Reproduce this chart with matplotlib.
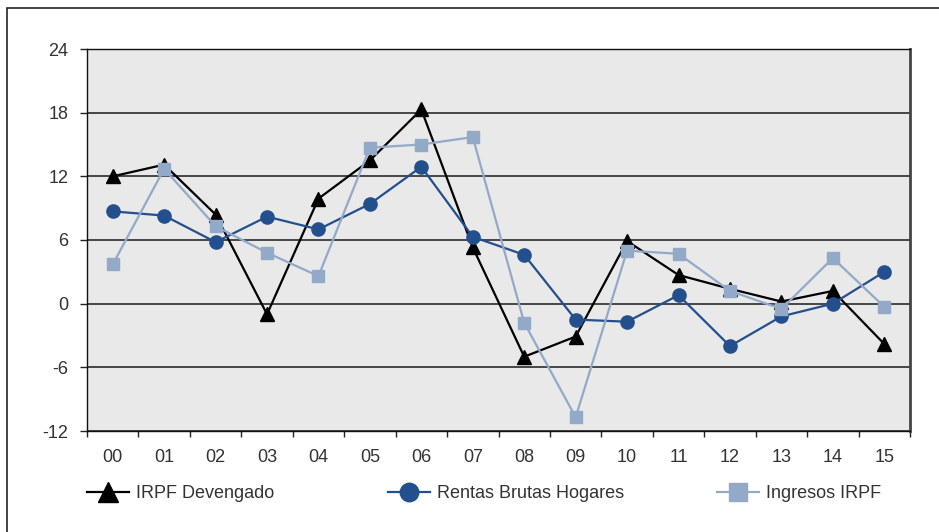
import matplotlib
matplotlib.use("Agg")
import matplotlib.pyplot as plt
from matplotlib.patches import Rectangle

# years (two-digit labels)
years = ["00", "01", "02", "03", "04", "05", "06", "07",
         "08", "09", "10", "11", "12", "13", "14", "15"]

irpf_devengado = [12.0, 13.1, 8.4, -1.0, 9.9, 13.5, 18.3, 5.3,
                  -5.0, -3.1, 5.9, 2.7, 1.4, 0.2, 1.2, -3.8]
rentas_brutas = [8.7, 8.3, 5.8, 8.2, 7.0, 9.4, 12.9, 6.3,
                 4.6, -1.5, -1.7, 0.8, -4.0, -1.2, 0.0, 3.0]
ingresos_irpf = [3.7, 12.7, 7.3, 4.8, 2.6, 14.7, 15.0, 15.7,
                 -1.8, -10.7, 5.0, 4.7, 1.2, -0.5, 4.3, -0.3]

yticks = [-12, -6, 0, 6, 12, 18, 24]

BLACK = "#000000"
DARK = "#234f8e"
LIGHT = "#93a9c8"
TXT = "#333333"

plt.rcParams["font.family"] = ["Liberation Sans", "DejaVu Sans"]

fig = plt.figure(figsize=(9.39, 5.32), dpi=100)
ax = fig.add_axes([87/939, 1-431/532, (910-87)/939, (431-49)/532])
ax.set_facecolor("#e9e9e9")

# outer frame (top and left visible)
fig.patches.append(Rectangle((7/939, -0.1), 1.2, 1-8/532+0.1, transform=fig.transFigure,
                             fill=False, edgecolor="#222222", lw=1.2))

x = list(range(len(years)))
l1, = ax.plot(x, irpf_devengado, color=BLACK, lw=1.6, marker="^", ms=10,
              label="IRPF Devengado", zorder=3)
l2, = ax.plot(x, rentas_brutas, color=DARK, lw=1.6, marker="o", ms=9.5,
              label="Rentas Brutas Hogares", zorder=3)
l3, = ax.plot(x, ingresos_irpf, color=LIGHT, lw=1.6, marker="s", ms=9,
              label="Ingresos IRPF", zorder=3)

ax.set_xlim(-0.5, len(years)-0.5)
ax.set_ylim(-12, 24)
ax.set_yticks(yticks)
ax.set_yticklabels([str(v) for v in yticks])
ax.set_xticks(x)
ax.set_xticklabels(years)
ax.set_xticks([i-0.5 for i in range(len(years)+1)], minor=True)
ax.tick_params(axis="x", which="major", length=0, pad=13, labelsize=13, labelcolor=TXT)
ax.tick_params(axis="x", which="minor", length=4.5, width=1, color="#222222", direction="out")
ax.tick_params(axis="y", length=5, width=1, color="#222222", pad=8.5, labelsize=13, labelcolor=TXT)

ax.yaxis.grid(True, color="#2b2b2b", lw=1.2)
ax.set_axisbelow(True)
for s in ["left", "top", "bottom"]:
    ax.spines[s].set_color("#111111")
    ax.spines[s].set_linewidth(1.0)
ax.spines["right"].set_color("#444444")
ax.spines["right"].set_linewidth(2.0)

# legend split in three pieces to match spacing
for h, xpos in [(l1, 87), (l2, 388), (l3, 717)]:
    lg = fig.legend(handles=[h], loc="center left",
                    bbox_to_anchor=(xpos/939, 1-494/532), frameon=False,
                    fontsize=13, handlelength=2.3, handletextpad=0.4,
                    markerscale=1.4, borderaxespad=0, borderpad=0)
    for t in lg.get_texts():
        t.set_color(TXT)

fig.savefig("out.png", dpi=100)
